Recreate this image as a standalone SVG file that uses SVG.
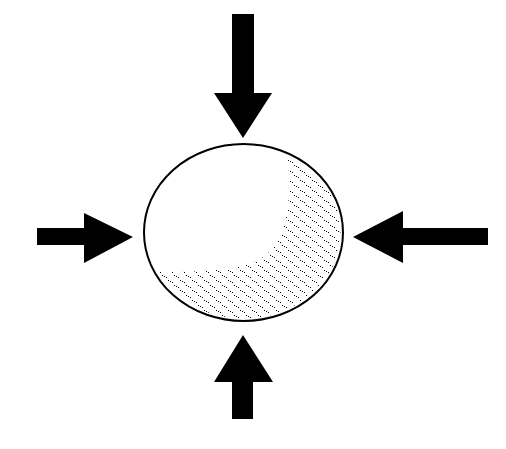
<svg xmlns="http://www.w3.org/2000/svg" width="506" height="449" viewBox="0 0 506 449">
<style>
.arrow{fill:#000;stroke:none}
.ball{fill:none;stroke:#000;stroke-width:2}
.dot{fill:#000;shape-rendering:crispEdges}
</style>
<defs>
<pattern id="stip" x="0" y="0" width="12" height="10" patternUnits="userSpaceOnUse">
<rect class="dot" x="0" y="0" width="1" height="1"/>
<rect class="dot" x="2" y="1" width="1" height="1"/>
<rect class="dot" x="4" y="2" width="1" height="1"/>
<rect class="dot" x="6" y="5" width="1" height="1"/>
<rect class="dot" x="8" y="6" width="1" height="1"/>
<rect class="dot" x="10" y="7" width="1" height="1"/>
</pattern>
<mask id="crescent">
<ellipse cx="243.5" cy="232.5" rx="97" ry="86" fill="#fff"/>
<path d="M120,120 L288,120 L288,160 C292,205 286,240 265,256 C245,270 210,272 160,272 L120,273 Z" fill="#000"/>
</mask>
</defs>
<rect width="506" height="449" fill="#fff"/>
<g id="ball">
<ellipse cx="243.5" cy="232.5" rx="99" ry="88" fill="#fff"/>
<rect x="140" y="140" width="210" height="190" fill="url(#stip)" mask="url(#crescent)"/>
<ellipse class="ball" cx="243.5" cy="232.5" rx="99.5" ry="88.5"/>
</g>
<g id="connectors">
<polygon id="arrow-top" class="arrow" points="232,14 254,14 254,93 272,93 243,138 214,93 232,93"/>
<polygon id="arrow-bottom" class="arrow" points="232,419 253,419 253,382 273,382 243,335 214,382 232,382"/>
<polygon id="arrow-left" class="arrow" points="37,228 84,228 84,213 133,237 84,263 84,245 37,245"/>
<polygon id="arrow-right" class="arrow" points="488,228 403,228 403,211 353,237 403,263 403,245 488,245"/>
</g>
</svg>
